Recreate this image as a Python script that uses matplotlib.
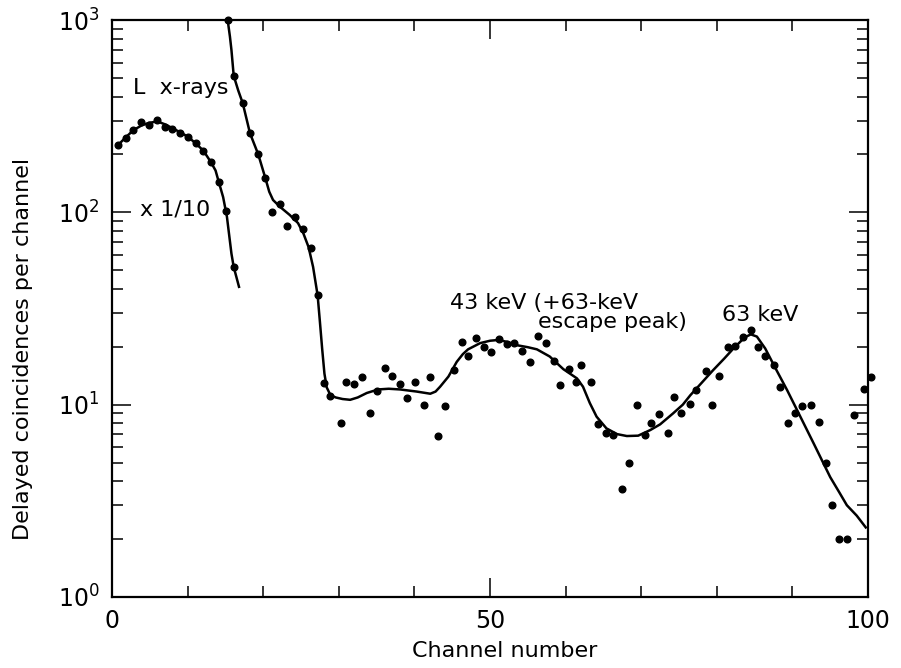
import matplotlib.pyplot as plt
from matplotlib.ticker import FixedLocator, LogLocator, NullFormatter

# L x-ray region, plotted at 1/10 scale
xr_ch = [0.8, 1.85, 2.8, 3.9, 4.9, 6.0, 7.0, 8.0, 9.0, 10.0, 11.1, 12.1, 13.1, 14.1, 15.1, 16.1]
xr_counts = [224, 243, 269, 294, 283, 302, 279, 271, 259, 247, 230, 209, 183, 143, 102, 52]
xr_fit_ch = [0.8, 1.8, 2.8, 3.9, 4.9, 6.0, 7.0, 8.0, 9.0, 10.0, 11.1, 12.1, 13.1, 13.7,
             14.1, 14.7, 15.2, 15.8, 16.1, 16.8]
xr_fit = [224, 245, 267, 283, 292, 297, 287, 274, 261, 248, 228, 209, 182, 165,
          145, 120, 95, 61, 52, 41]

# full-scale spectrum
ch = [15.3, 16.1, 17.3, 18.25, 19.35, 20.3, 21.2, 22.2, 23.2, 24.2, 25.3, 26.3, 27.2,
      28.1, 28.9, 30.25, 31.0, 32.05, 33.1, 34.1, 35.1, 36.1, 37.1, 38.1, 39.0, 40.1,
      41.3, 42.1, 43.1, 44.1, 45.2, 46.3, 47.1, 48.2, 49.2, 50.1, 51.15, 52.2, 53.2,
      54.2, 55.3, 56.3, 57.4, 58.4, 59.3, 60.4, 61.4, 62.1, 63.4, 64.3, 65.3, 66.3,
      67.4, 68.4, 69.4, 70.5, 71.3, 72.4, 73.5, 74.3, 75.3, 76.5, 77.3, 78.6, 79.4,
      80.3, 81.5, 82.4, 83.5, 84.5, 85.5, 86.4, 87.6, 88.4, 89.4, 90.4, 91.3, 92.4,
      93.5, 94.4, 95.3, 96.1, 97.2, 98.2, 99.5, 100.4]
counts = [1000, 513, 369, 258, 200, 150, 100, 110, 85, 95, 82, 65, 37,
          13.0, 11.1, 8.06, 13.1, 12.8, 14.0, 9.0, 11.8, 15.6, 14.1, 12.8, 10.8, 13.1,
          10.0, 14.0, 6.9, 9.9, 15.1, 21.2, 18.0, 22.1, 20.0, 18.7, 21.9, 20.8, 21.0,
          19.1, 16.7, 22.8, 20.9, 16.9, 12.7, 15.3, 13.1, 16.1, 13.1, 7.95, 7.1, 6.95,
          3.64, 5.0, 10.0, 6.95, 8.0, 8.9, 7.1, 11.0, 9.0, 10.1, 11.9, 15.0, 10.0,
          14.1, 20.0, 20.2, 22.5, 24.5, 20.0, 18.0, 16.1, 12.3, 8.05, 9.0, 9.9, 9.95,
          8.1, 5.0, 3.0, 2.0, 2.0, 8.8, 12.1, 13.9]

# hand-drawn fit through the spectrum
fit_ch = [15.3, 15.6, 15.8, 16.1, 16.7, 17.3, 18.25, 19.35, 20.3, 20.8, 21.3, 22.2,
          23.5, 24.6, 25.3, 26.0, 26.6, 27.2, 27.5, 27.8, 28.1, 28.4, 28.9, 29.6,
          30.5, 31.5, 32.5, 33.7, 35.2, 36.6, 38.1, 40.3, 42.1, 42.8, 43.4, 44.5,
          45.6, 46.4, 47.1, 48.7, 50.0, 51.1, 52.3, 53.5, 55.0, 56.2, 57.9, 58.8,
          59.7, 61.5, 62.3, 63.2, 64.1, 65.4, 66.8, 68.1, 69.6, 71.2, 72.5, 74.2,
          75.5, 76.5, 78.0, 79.5, 81.0, 82.2, 83.7, 84.5, 85.3, 86.4, 87.9, 89.3,
          90.6, 92.8, 95.0, 96.2, 97.2, 98.5, 99.7]
fit = [1000, 820, 698, 513, 430, 369, 258, 200, 150, 128, 116, 107,
       97, 88, 78, 66, 52, 37, 27, 19.5, 14.5, 12.3, 11.2, 10.9,
       10.7, 10.6, 10.9, 11.5, 12.0, 12.1, 12.0, 11.7, 11.4, 11.7, 12.4, 14.0,
       16.7, 18.3, 19.4, 20.9, 21.5, 21.7, 21.2, 20.4, 19.9, 19.4, 17.8, 16.5,
       15.3, 13.7, 12.4, 10.2, 8.66, 7.53, 7.03, 6.87, 6.9, 7.38, 7.9, 9.0,
       10.0, 11.2, 13.0, 15.1, 17.4, 19.6, 22.4, 23.2, 22.6, 19.6, 15.1, 11.9,
       9.4, 6.3, 4.2, 3.5, 3.0, 2.65, 2.3]

fig = plt.figure(figsize=(9.01, 6.68), dpi=100)
ax = fig.add_axes([0.1243, 0.1063, 0.8391, 0.8637])

ax.plot(xr_fit_ch, xr_fit, color='black', lw=1.8, solid_joinstyle='round')
ax.plot(xr_ch, xr_counts, 'o', color='black', ms=4.8)
ax.plot(fit_ch, fit, color='black', lw=1.8, solid_joinstyle='round')
ax.plot(ch, counts, 'o', color='black', ms=4.8, clip_on=False)

ax.set_yscale('log')
ax.set_xlim(0, 100)
ax.set_ylim(1, 1000)

ax.xaxis.set_major_locator(FixedLocator([0, 50, 100]))
ax.xaxis.set_minor_locator(FixedLocator([10, 20, 30, 40, 60, 70, 80, 90]))
ax.yaxis.set_major_locator(FixedLocator([1, 10, 100, 1000]))
ax.yaxis.set_minor_locator(LogLocator(base=10, subs=range(2, 10)))
ax.yaxis.set_minor_formatter(NullFormatter())
ax.set_yticklabels([r'$10^0$', r'$10^1$', r'$10^2$', r'$10^3$'])

ax.tick_params(which='both', direction='in', top=True, right=True, width=1.1)
ax.tick_params(which='major', length=14, labelsize=17, pad=9)
ax.tick_params(which='minor', length=8)
for s in ax.spines.values():
    s.set_linewidth(1.6)

ax.set_xlabel('Channel number', fontsize=16)
ax.set_ylabel('Delayed coincidences per channel', fontsize=16)
ax.xaxis.set_label_coords(0.52, -0.077)
ax.yaxis.set_label_coords(-0.104, 0.43)

ax.text(2.8, 443, 'L  x-rays', fontsize=16, va='center')
ax.text(3.7, 103, 'x 1/10', fontsize=16, va='center')
ax.text(44.7, 33.7, '43 keV (+63-keV', fontsize=16, va='center')
ax.text(76.1, 26.9, 'escape peak)', fontsize=16, va='center', ha='right')
ax.text(80.7, 29.2, '63 keV', fontsize=16, va='center')

fig.savefig('out.png', dpi=100)
